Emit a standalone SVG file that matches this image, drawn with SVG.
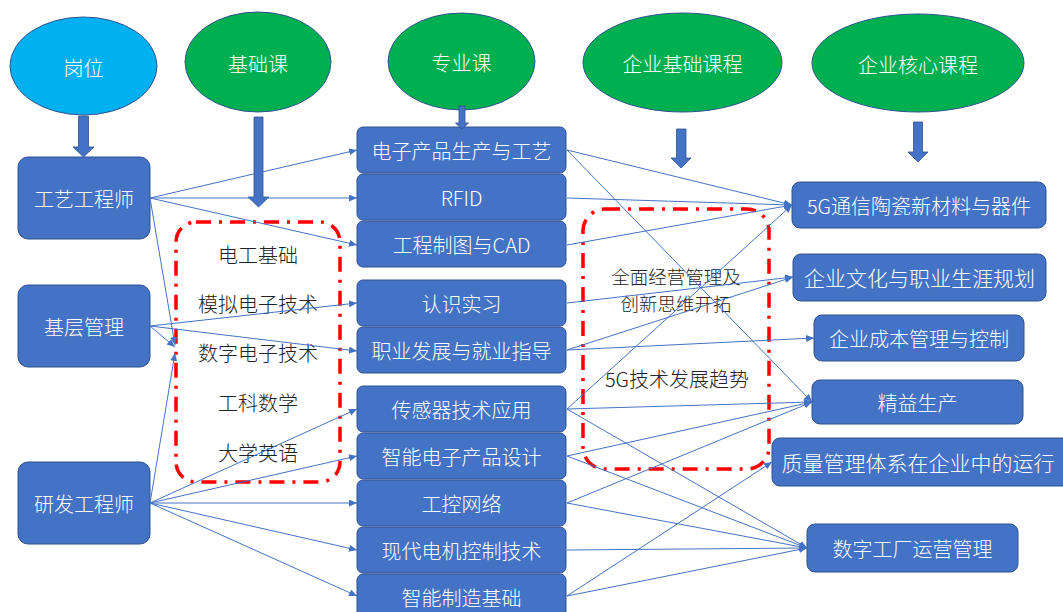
<svg xmlns="http://www.w3.org/2000/svg" width="1063" height="612" viewBox="0 0 1063 612">
<defs>
<marker id="ah" markerUnits="userSpaceOnUse" markerWidth="9" markerHeight="8" refX="8" refY="3.5" orient="auto"><path d="M0,0 L8,3.5 L0,7 z" fill="#4472C4"/></marker>
<style>
text{font-family:"Noto Sans CJK SC","Noto Sans",sans-serif;font-size:20px;font-weight:300;text-anchor:middle;dominant-baseline:central}
.w{fill:#FFFFFF}
.k{fill:#222222}
.box{fill:#4472C4;stroke:#2F528F;stroke-width:1}
.ec{fill:#00B0F0;stroke:#2F528F;stroke-width:1}
.eg{fill:#00B050;stroke:#2F528F;stroke-width:1}
.ba{fill:#4472C4;stroke:#2F528F;stroke-width:0.8}
.dash{fill:none;stroke:#FF0000;stroke-width:3.5;stroke-dasharray:15 8 3 8}
.c line{stroke:#4472C4;stroke-width:1;marker-end:url(#ah)}
</style>
</defs>
<rect width="1063" height="612" fill="#FFFFFF"/>

<g id="ell-gangwei"><ellipse class="ec" cx="83.5" cy="66" rx="73.5" ry="49"/><text class="w" x="83.5" y="67">岗位</text></g>
<g id="ell-jichu"><ellipse class="eg" cx="258" cy="62" rx="73" ry="50"/><text class="w" x="258" y="63">基础课</text></g>
<g id="ell-zhuanye"><ellipse class="eg" cx="461.5" cy="61.5" rx="73.5" ry="48.5"/><text class="w" x="461.5" y="62">专业课</text></g>
<g id="ell-qyjc"><ellipse class="eg" cx="682.5" cy="62.5" rx="99.5" ry="49.5"/><text class="w" x="682.5" y="63">企业基础课程</text></g>
<g id="ell-qyhx"><ellipse class="eg" cx="918" cy="63" rx="106" ry="49"/><text class="w" x="918" y="64">企业核心课程</text></g>

<g id="dash-left"><rect class="dash" x="176" y="222" width="164" height="260" rx="20"/>
<text class="k" x="258" y="254">电工基础</text>
<text class="k" x="258" y="303">模拟电子技术</text>
<text class="k" x="258" y="352">数字电子技术</text>
<text class="k" x="258" y="402">工科数学</text>
<text class="k" x="258" y="452">大学英语</text></g>
<g id="dash-right"><rect class="dash" x="583" y="209" width="186" height="260" rx="22"/>
<text class="k" x="676" y="275.5" style="font-size:18.5px">全面经营管理及</text>
<text class="k" x="676" y="303" style="font-size:18.5px">创新思维开拓</text>
<text class="k" x="677" y="378">5G技术发展趋势</text></g>

<g id="left-nodes">
<g id="n-gyg"><rect class="box" x="18" y="157" width="132" height="82" rx="10"/><text class="w" x="84" y="198">工艺工程师</text></g>
<g id="n-jcgl"><rect class="box" x="18" y="285" width="132" height="82" rx="10"/><text class="w" x="84" y="326">基层管理</text></g>
<g id="n-yfg"><rect class="box" x="18" y="462" width="132" height="82" rx="10"/><text class="w" x="84" y="503">研发工程师</text></g>
</g>

<g id="mid-nodes">
<g id="m1"><rect class="box" x="357" y="127" width="209" height="46" rx="6"/><text class="w" x="461.5" y="150">电子产品生产与工艺</text></g>
<g id="m2"><rect class="box" x="357" y="174" width="209" height="46" rx="6"/><text class="w" x="461.5" y="197">RFID</text></g>
<g id="m3"><rect class="box" x="357" y="221" width="209" height="46" rx="6"/><text class="w" x="461.5" y="244">工程制图与CAD</text></g>
<g id="m4"><rect class="box" x="357" y="280" width="209" height="46" rx="6"/><text class="w" x="461.5" y="303">认识实习</text></g>
<g id="m5"><rect class="box" x="357" y="327" width="209" height="46" rx="6"/><text class="w" x="461.5" y="350">职业发展与就业指导</text></g>
<g id="m6"><rect class="box" x="357" y="386" width="209" height="46" rx="6"/><text class="w" x="461.5" y="409">传感器技术应用</text></g>
<g id="m7"><rect class="box" x="357" y="433" width="209" height="46" rx="6"/><text class="w" x="461.5" y="456">智能电子产品设计</text></g>
<g id="m8"><rect class="box" x="357" y="480" width="209" height="46" rx="6"/><text class="w" x="461.5" y="503">工控网络</text></g>
<g id="m9"><rect class="box" x="357" y="527" width="209" height="46" rx="6"/><text class="w" x="461.5" y="550">现代电机控制技术</text></g>
<g id="m10"><rect class="box" x="357" y="574" width="209" height="46" rx="6"/><text class="w" x="461.5" y="597">智能制造基础</text></g>
</g>

<g id="right-nodes">
<g id="r1"><rect class="box" x="792" y="182" width="254" height="46" rx="8"/><text class="w" x="919" y="205">5G通信陶瓷新材料与器件</text></g>
<g id="r2"><rect class="box" x="793" y="254" width="253" height="47" rx="8"/><text class="w" x="919.5" y="277" style="font-size:21px">企业文化与职业生涯规划</text></g>
<g id="r3"><rect class="box" x="814" y="315" width="210" height="46" rx="8"/><text class="w" x="919" y="338">企业成本管理与控制</text></g>
<g id="r4"><rect class="box" x="812" y="380" width="211" height="44" rx="8"/><text class="w" x="917.5" y="402">精益生产</text></g>
<g id="r5"><rect class="box" x="772" y="438" width="300" height="48" rx="8"/><text class="w" x="918" y="462" style="font-size:21px">质量管理体系在企业中的运行</text></g>
<g id="r6"><rect class="box" x="807" y="524" width="211" height="48" rx="8"/><text class="w" x="912.5" y="548">数字工厂运营管理</text></g>
</g>

<g id="block-arrows">
<path class="ba" d="M78.5,116 H88.5 V147 H94 L83.5,157 L73,147 H78.5 Z"/>
<path class="ba" d="M254,117 H263 V197 H269 L258.5,207 L248,197 H254 Z"/>
<path class="ba" d="M459,106 H465 V123 H468.5 L462,129 L455.5,123 H459 Z"/>
<path class="ba" d="M676.5,129 H686 V158 H691 L681,168 L671,158 H676.5 Z"/>
<path class="ba" d="M913.5,122 H922.5 V152 H928 L918,162 L908,152 H913.5 Z"/>
</g>

<g id="connectors" class="c">
<line x1="150" y1="198" x2="357" y2="150"/>
<line x1="150" y1="198" x2="357" y2="198"/>
<line x1="150" y1="198" x2="357" y2="245"/>
<line x1="150" y1="198" x2="175" y2="345"/>
<line x1="150" y1="326" x2="357" y2="303"/>
<line x1="150" y1="326" x2="357" y2="351"/>
<line x1="150" y1="326" x2="175" y2="347"/>
<line x1="150" y1="503" x2="175" y2="353"/>
<line x1="150" y1="503" x2="357" y2="409"/>
<line x1="150" y1="503" x2="357" y2="456"/>
<line x1="150" y1="503" x2="357" y2="503"/>
<line x1="150" y1="503" x2="357" y2="550"/>
<line x1="150" y1="503" x2="357" y2="596"/>
<line x1="567" y1="150" x2="792" y2="205"/>
<line x1="567" y1="150" x2="812" y2="402"/>
<line x1="567" y1="198" x2="792" y2="205"/>
<line x1="567" y1="245" x2="792" y2="205"/>
<line x1="567" y1="303" x2="793" y2="277"/>
<line x1="567" y1="350" x2="793" y2="277"/>
<line x1="567" y1="350" x2="814" y2="338"/>
<line x1="567" y1="409" x2="792" y2="205"/>
<line x1="567" y1="409" x2="812" y2="402"/>
<line x1="567" y1="409" x2="807" y2="548"/>
<line x1="567" y1="456" x2="812" y2="402"/>
<line x1="567" y1="456" x2="807" y2="548"/>
<line x1="567" y1="503" x2="812" y2="402"/>
<line x1="567" y1="503" x2="807" y2="548"/>
<line x1="567" y1="550" x2="807" y2="548"/>
<line x1="567" y1="596" x2="807" y2="548"/>
<line x1="567" y1="596" x2="772" y2="462"/>
</g>
</svg>
